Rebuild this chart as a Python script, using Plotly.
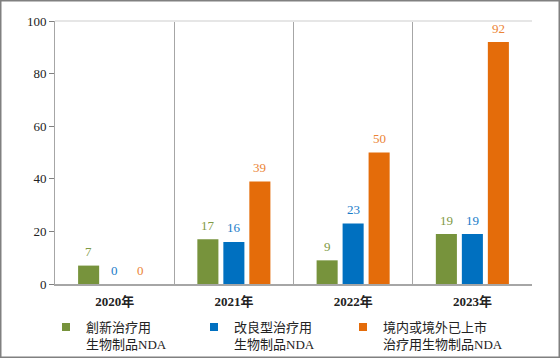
import plotly.graph_objects as go

categories = ["2020年", "2021年", "2022年", "2023年"]
series_names = ["創新治疗用<br>生物制品NDA", "改良型治疗用<br>生物制品NDA", "境内或境外已上市<br>治疗用生物制品NDA"]
innovative = [7, 17, 9, 19]
improved = [0, 16, 23, 19]
marketed = [0, 39, 50, 92]
series_values = [innovative, improved, marketed]
bar_colors = ["#77933C", "#0070C0", "#E46C0A"]
label_colors = ["#7F9A45", "#1A7CC9", "#EB8436"]
y_ticks = [0, 20, 40, 60, 80, 100]

L, R, T, B = 55, 28, 21, 74
W, H = 560, 358
PW, PH = W - L - R, H - T - B

SERIF = "Liberation Serif, Times New Roman, Noto Sans CJK SC, serif"
legend_ids = ["legend", "legend2", "legend3"]
legend_px = [46, 194, 343]

fig = go.Figure()
for name, vals, col, lid in zip(series_names, series_values, bar_colors, legend_ids):
    fig.add_trace(go.Bar(x=categories, y=vals, name=name, marker_color=col,
                         marker_line_width=0, showlegend=False, hoverinfo="skip"))
    fig.add_trace(go.Scatter(x=[None], y=[None], mode="markers", name=name, legend=lid,
                             marker=dict(symbol="square", size=8, color=col)))

offsets = [-26, 0, 26]
for vals, col, off in zip(series_values, label_colors, offsets):
    for c, v in zip(categories, vals):
        fig.add_annotation(x=c, y=v, text=str(v), showarrow=False, xshift=off,
                           yshift=14, yanchor="middle",
                           font=dict(family=SERIF, size=13, color=col))

# plot-area top edge (light) and outer frame
fig.add_shape(type="line", xref="x domain", yref="y domain", x0=0, x1=1, y0=1, y1=1,
              line=dict(color="#E6E6E6", width=2))
fig.add_shape(type="rect", xref="paper", yref="paper",
              x0=-L / PW + 0.5 / PW, x1=1 + R / PW - 0.5 / PW,
              y0=-B / PH + 0.5 / PH, y1=1 + T / PH - 0.5 / PH,
              line=dict(color="#808080", width=2))

legend_common = dict(orientation="v", xanchor="left", y=-0.107, yanchor="top",
                     valign="top", itemwidth=30, bgcolor="rgba(0,0,0,0)",
                     font=dict(family=SERIF, size=13, color="#222222"),
                     itemclick=False, itemdoubleclick=False)
legends = {lid: dict(legend_common, x=(px - L) / PW) for lid, px in zip(legend_ids, legend_px)}

fig.update_layout(
    width=W, height=H,
    margin=dict(l=L, r=R, t=T, b=B, autoexpand=False),
    paper_bgcolor="white", plot_bgcolor="white",
    barmode="group", bargap=0.346, bargroupgap=0.19,
    font=dict(family=SERIF, size=12, color="#222222"),
    xaxis=dict(type="category", showgrid=True, tickson="boundaries", gridcolor="#A6A6A6",
               gridwidth=1, ticks="", showline=True, linecolor="#A6A6A6", linewidth=2,
               tickfont=dict(family=SERIF, size=13, color="#222222", weight="bold"),
               ticklabelstandoff=4, fixedrange=True),
    yaxis=dict(range=[0, 100], tickvals=y_ticks, showgrid=False, zeroline=False,
               showline=True, linecolor="#A6A6A6", linewidth=1, ticks="outside",
               ticklen=5, tickcolor="#808080", fixedrange=True,
               tickfont=dict(family=SERIF, size=13, color="#222222")),
    **legends,
)

fig.write_html("out.html", config={"displayModeBar": False},
               post_script="document.body.style.margin='0';document.body.style.overflow='hidden';")
